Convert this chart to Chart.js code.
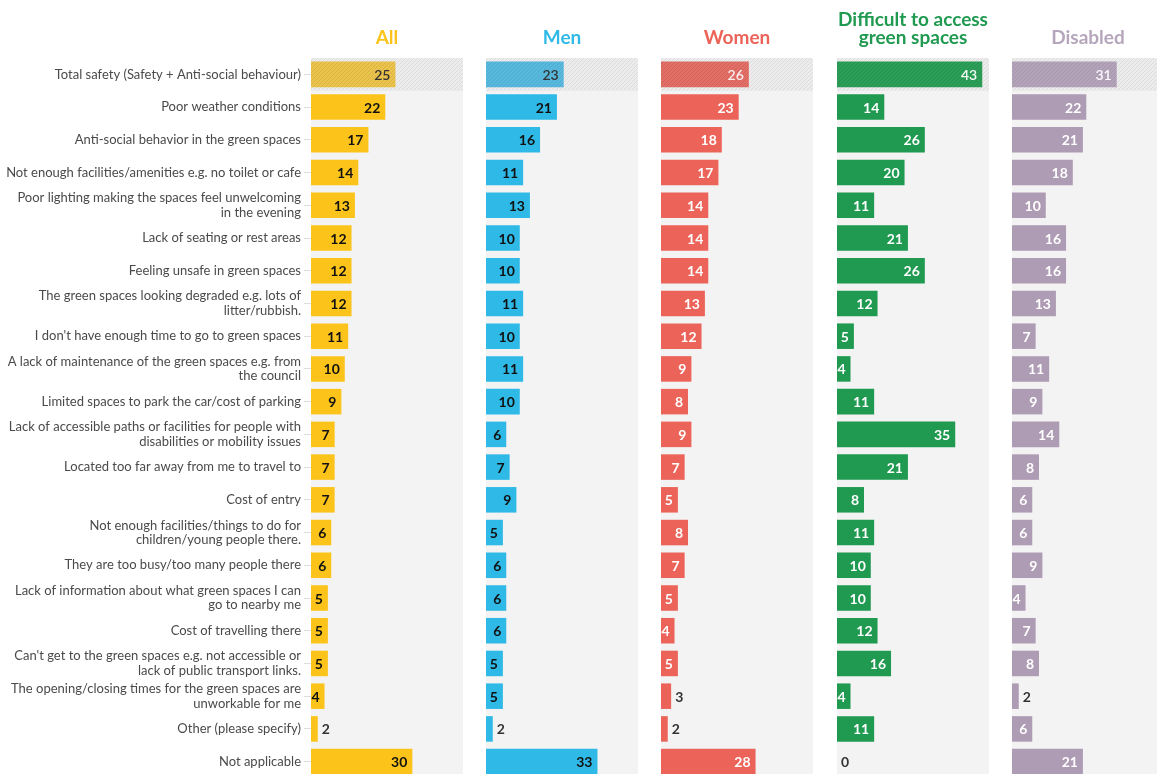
<!DOCTYPE html>
<html>
<head>
<meta charset="utf-8">
<script src="https://cdn.jsdelivr.net/npm/chart.js@4/dist/chart.umd.min.js"></script>
<style>
  body { margin: 0; width: 1157px; height: 774px; overflow: hidden; background: #fff; position: relative; }
  canvas { position: absolute; top: 0; }
</style>
</head>
<body>
<canvas id="c0" width="463" height="800" style="left:0"></canvas>
<canvas id="c1" width="152" height="800" style="left:486px"></canvas>
<canvas id="c2" width="152" height="800" style="left:661px"></canvas>
<canvas id="c3" width="152" height="800" style="left:837px"></canvas>
<canvas id="c4" width="152" height="800" style="left:1012px"></canvas>
<script>
// categories, top to bottom
var categories = [
    'Total safety (Safety + Anti-social behaviour)',
    'Poor weather conditions',
    'Anti-social behavior in the green spaces',
    'Not enough facilities/amenities e.g. no toilet or cafe',
    ['Poor lighting making the spaces feel unwelcoming', 'in the evening'],
    'Lack of seating or rest areas',
    'Feeling unsafe in green spaces',
    ['The green spaces looking degraded e.g. lots of', 'litter/rubbish.'],
    "I don't have enough time to go to green spaces",
    ['A lack of maintenance of the green spaces e.g. from', 'the council'],
    'Limited spaces to park the car/cost of parking',
    ['Lack of accessible paths or facilities for people with', 'disabilities or mobility issues'],
    'Located too far away from me to travel to',
    'Cost of entry',
    ['Not enough facilities/things to do for', 'children/young people there.'],
    'They are too busy/too many people there',
    ['Lack of information about what green spaces I can', 'go to nearby me'],
    'Cost of travelling there',
    ["Can't get to the green spaces e.g. not accessible or", 'lack of public transport links.'],
    ['The opening/closing times for the green spaces are', 'unworkable for me'],
    'Other (please specify)',
    'Not applicable'
];

var allValues      = [25, 22, 17, 14, 13, 12, 12, 12, 11, 10, 9, 7, 7, 7, 6, 6, 5, 5, 5, 4, 2, 30];
var menValues      = [23, 21, 16, 11, 13, 10, 10, 11, 10, 11, 10, 6, 7, 9, 5, 6, 6, 6, 5, 5, 2, 33];
var womenValues    = [26, 23, 18, 17, 14, 14, 14, 13, 12, 9, 8, 9, 7, 5, 8, 7, 5, 4, 5, 3, 2, 28];
var greenValues    = [43, 14, 26, 20, 11, 21, 26, 12, 5, 4, 11, 35, 21, 8, 11, 10, 10, 12, 16, 4, 11, 0];
var disabledValues = [31, 22, 21, 18, 10, 16, 16, 13, 7, 11, 9, 14, 8, 6, 6, 9, 4, 7, 8, 2, 6, 21];

var panelTitles = [['All'], ['Men'], ['Women'], ['Difficult to access', 'green spaces'], ['Disabled']];

var barColors   = ['#fcc41a', '#2eb9e6', '#ec6459', '#1f9a50', '#ae9bb4'];
var titleColors = ['#fcc41a', '#2eb9e6', '#ec6459', '#1f9a50', '#b6a6bc'];
var topBase     = ['#e9c34d', '#59b8dc', '#e06f67', '#2c9e58', '#b3a3b9'];
var topLine     = ['#dcb43c', '#4aaed4', '#d66159', '#23914f', '#a897ae'];
var inColors    = ['#111', '#111', '#fff', '#fff', '#fff'];
var topText     = ['#333', '#333', '#fbeeee', '#f4fbf6', '#fbf8fc'];

var FONT = 'Lato, "Noto Sans", sans-serif';

function hatch(base, line) {
    var c = document.createElement('canvas');
    c.width = 4; c.height = 4;
    var g = c.getContext('2d');
    g.fillStyle = base;
    g.fillRect(0, 0, 4, 4);
    g.strokeStyle = line;
    g.lineWidth = 1;
    g.beginPath();
    g.moveTo(0, 4); g.lineTo(4, 0);
    g.moveTo(-1, 1); g.lineTo(1, -1);
    g.moveTo(3, 5); g.lineTo(5, 3);
    g.stroke();
    return g.createPattern(c, 'repeat');
}

var bgHatch = hatch('#ececec', '#dcdcdc');

var panelPlugin = {
    id: 'panel',
    beforeDatasetsDraw: function (chart) {
        var ctx = chart.ctx, a = chart.chartArea, y = chart.scales.y;
        var c0 = y.getPixelForValue(0);
        var half = (y.getPixelForValue(1) - c0) / 2;
        ctx.save();
        ctx.fillStyle = '#f3f3f3';
        ctx.fillRect(a.left, a.top, a.right - a.left, a.bottom - a.top);
        ctx.fillStyle = bgHatch;
        ctx.fillRect(a.left, c0 - half, a.right - a.left, half * 2);
        ctx.restore();
    },
    afterDatasetsDraw: function (chart, args, opts) {
        var ctx = chart.ctx, i = opts.idx;
        var values = chart.data.datasets[0].data;
        ctx.save();
        ctx.textBaseline = 'middle';
        chart.getDatasetMeta(0).data.forEach(function (bar, k) {
            var v = values[k];
            if (k === 0) {
                ctx.font = '600 14px ' + FONT;
                ctx.fillStyle = topText[i];
                ctx.textAlign = 'right';
                ctx.fillText(v, bar.x - 5, bar.y + 1);
            } else if (v >= 4) {
                ctx.font = 'bold 14px ' + FONT;
                ctx.fillStyle = inColors[i];
                ctx.textAlign = 'right';
                ctx.fillText(v, bar.x - 5, bar.y + 1);
            } else {
                ctx.font = 'bold 14px ' + FONT;
                ctx.fillStyle = '#333';
                ctx.textAlign = 'left';
                ctx.fillText(v, bar.x + 4, bar.y + 1);
            }
        });
        // panel title
        var a = chart.chartArea, lines = panelTitles[i];
        ctx.font = 'bold 19px ' + FONT;
        ctx.fillStyle = titleColors[i];
        ctx.textAlign = 'center';
        lines.forEach(function (t, n) {
            ctx.fillText(t, (a.left + a.right) / 2, 38 - (lines.length - 1 - n) * 18);
        });
        ctx.restore();
    }
};

function makeChart(id, values, idx) {
    var yAxis = { display: false };
    if (idx === 0) {
        yAxis = {
            afterFit: function (scale) { scale.width = 311; },
            grid: { drawOnChartArea: false, offset: false, tickLength: 7, color: '#dddddd' },
            border: { display: false },
            ticks: { color: '#4a4a4a', padding: 3, autoSkip: false, font: { family: FONT, size: 13, lineHeight: 1.1 } }
        };
    }
    var hatchTop = hatch(topBase[idx], topLine[idx]);
    return new Chart(document.getElementById(id), {
        type: 'bar',
        data: {
            labels: categories,
            datasets: [{
                data: values,
                backgroundColor: values.map(function (v, k) { return k === 0 ? hatchTop : barColors[idx]; }),
                barPercentage: 1,
                categoryPercentage: 0.78
            }]
        },
        options: {
            indexAxis: 'y',
            responsive: false,
            animation: false,
            layout: { padding: { top: 58, bottom: 22, left: 0, right: 0 } },
            plugins: {
                legend: { display: false },
                tooltip: { enabled: false },
                panel: { idx: idx }
            },
            scales: {
                x: { display: false, min: 0, max: 45 },
                y: yAxis
            }
        },
        plugins: [panelPlugin]
    });
}

makeChart('c0', allValues, 0);
makeChart('c1', menValues, 1);
makeChart('c2', womenValues, 2);
makeChart('c3', greenValues, 3);
makeChart('c4', disabledValues, 4);
</script>
</body>
</html>
